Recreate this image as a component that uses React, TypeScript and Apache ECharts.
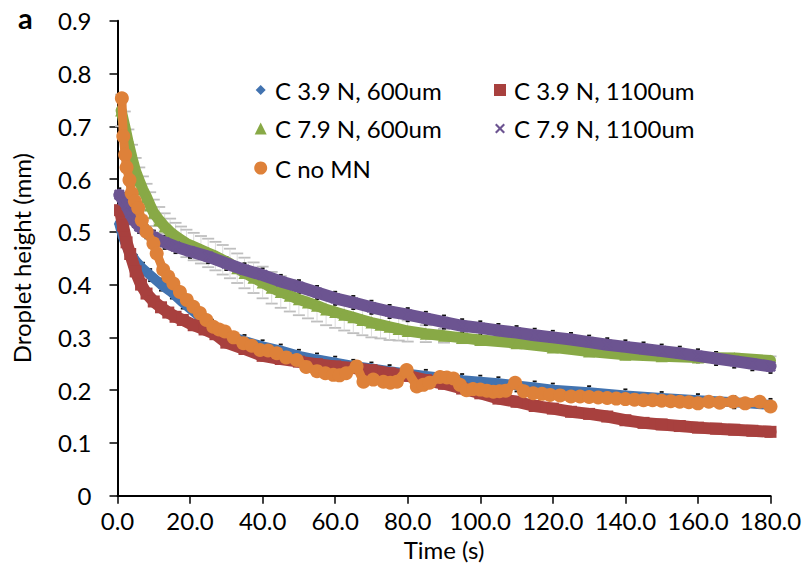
import React, { useEffect, useRef } from "react";
import * as echarts from "echarts";

// ---------- data ----------
const xTicks = [0, 20, 40, 60, 80, 100, 120, 140, 160, 180];
const yTicks = [0, 0.1, 0.2, 0.3, 0.4, 0.5, 0.6, 0.7, 0.8, 0.9];

const seriesNames = [
  "C 3.9 N, 600um",
  "C 3.9 N, 1100um",
  "C 7.9 N, 600um",
  "C 7.9 N, 1100um",
  "C no MN",
];

const blueTime = [0.5, 1.5, 3, 5, 7, 9, 12, 15, 18, 22, 26, 30, 35, 40, 45, 50, 55, 60, 65, 70, 75, 80, 85, 90, 95, 100, 105, 110, 115, 120, 130, 140, 150, 160, 170, 180];
const blueHeight = [0.515, 0.49, 0.465, 0.445, 0.43, 0.418, 0.4, 0.385, 0.366, 0.343, 0.322, 0.305, 0.293, 0.283, 0.275, 0.265, 0.258, 0.252, 0.246, 0.241, 0.236, 0.231, 0.227, 0.223, 0.219, 0.216, 0.213, 0.209, 0.205, 0.201, 0.196, 0.19, 0.185, 0.181, 0.177, 0.172];

const redTime = [0.7, 1.5, 2.5, 3.5, 5, 6.5, 8, 10, 12, 14, 16, 18, 21, 24, 27, 30, 35, 40, 45, 50, 55, 60, 65, 70, 75, 80, 85, 90, 95, 100, 105, 110, 115, 120, 125, 130, 135, 140, 145, 150, 155, 160, 165, 170, 175, 180];
const redHeight = [0.541, 0.512, 0.48, 0.458, 0.425, 0.4, 0.383, 0.368, 0.357, 0.347, 0.339, 0.333, 0.323, 0.315, 0.306, 0.29, 0.278, 0.265, 0.259, 0.254, 0.249, 0.245, 0.242, 0.238, 0.232, 0.227, 0.219, 0.212, 0.203, 0.194, 0.184, 0.178, 0.17, 0.165, 0.159, 0.155, 0.15, 0.143, 0.138, 0.135, 0.132, 0.129, 0.127, 0.125, 0.123, 0.121];

const greenTime = [1, 2, 3, 4, 5, 6, 7, 8, 9, 10, 11.5, 13, 14.5, 16, 17.5, 19, 21, 23, 25, 27, 29, 31, 33, 35, 37.5, 40, 42.5, 45, 47.5, 50, 52.5, 55, 57.5, 60, 62.5, 65, 67.5, 70, 72.5, 75, 77.5, 80, 85, 90, 95, 100, 110, 120, 130, 140, 150, 160, 170, 180];
const greenHeight = [0.73, 0.7, 0.668, 0.64, 0.615, 0.597, 0.58, 0.566, 0.55, 0.536, 0.522, 0.51, 0.5, 0.492, 0.485, 0.478, 0.472, 0.466, 0.46, 0.454, 0.447, 0.44, 0.431, 0.422, 0.413, 0.404, 0.394, 0.386, 0.379, 0.372, 0.366, 0.36, 0.353, 0.348, 0.343, 0.338, 0.333, 0.328, 0.324, 0.32, 0.316, 0.312, 0.307, 0.303, 0.299, 0.295, 0.289, 0.281, 0.273, 0.267, 0.264, 0.262, 0.261, 0.256];
const greenError = [0.03, 0.028, 0.026, 0.025, 0.025, 0.025, 0.025, 0.025, 0.025, 0.025, 0.025, 0.025, 0.025, 0.025, 0.025, 0.026, 0.026, 0.026, 0.027, 0.027, 0.028, 0.028, 0.028, 0.029, 0.029, 0.03, 0.03, 0.03, 0.03, 0.03, 0.03, 0.03, 0.03, 0.03, 0.03, 0.03, 0.029, 0.028, 0.026, 0.025, 0.022, 0.02, 0.016, 0.013, 0.01, 0.008, 0.008, 0.008, 0.008, 0.008, 0.008, 0.008, 0.008, 0.008];

const purpleTime = [0.5, 1.5, 2.5, 3.5, 4.5, 6, 8, 10, 13, 16, 20, 25, 30, 35, 40, 45, 50, 55, 60, 65, 70, 75, 80, 85, 90, 95, 100, 105, 110, 115, 120, 125, 130, 135, 140, 145, 150, 155, 160, 165, 170, 175, 180];
const purpleHeight = [0.57, 0.56, 0.55, 0.535, 0.522, 0.51, 0.5, 0.49, 0.48, 0.472, 0.463, 0.453, 0.44, 0.428, 0.418, 0.406, 0.396, 0.385, 0.374, 0.366, 0.357, 0.349, 0.343, 0.336, 0.329, 0.322, 0.318, 0.313, 0.309, 0.304, 0.3, 0.296, 0.291, 0.286, 0.282, 0.278, 0.274, 0.27, 0.265, 0.26, 0.255, 0.25, 0.245];

const orangeTime = [1.2, 1.6, 2.1, 2.5, 3.3, 3.9, 4.8, 5.7, 6.7, 8, 9.9, 10.8, 12.6, 14, 15.4, 17.2, 19.1, 20.9, 22.7, 24.5, 26.4, 28, 29.6, 32, 34.7, 37, 39.3, 41.5, 43.9, 46.5, 49.4, 52, 55, 57.3, 59.5, 61.2, 63, 65.9, 67.8, 70.5, 73.3, 75.2, 77, 79.7, 82.5, 84.3, 86, 88.9, 90.8, 92.6, 94.4, 96.2, 98, 100, 101.8, 103.6, 105.3, 107, 109.6, 112, 114.6, 117, 119.2, 122, 125, 127.5, 130, 132.5, 135, 137.5, 140, 142.5, 145, 147.5, 150, 152.5, 155, 157.5, 160, 163, 166, 169.7, 173, 177, 180];
const orangeHeight = [0.753, 0.681, 0.646, 0.622, 0.598, 0.573, 0.558, 0.545, 0.522, 0.5, 0.478, 0.459, 0.428, 0.415, 0.402, 0.386, 0.371, 0.358, 0.346, 0.333, 0.32, 0.315, 0.311, 0.3, 0.289, 0.284, 0.276, 0.275, 0.27, 0.262, 0.257, 0.244, 0.236, 0.232, 0.229, 0.228, 0.232, 0.245, 0.216, 0.22, 0.216, 0.214, 0.216, 0.238, 0.207, 0.21, 0.214, 0.225, 0.224, 0.222, 0.21, 0.2, 0.202, 0.201, 0.199, 0.197, 0.198, 0.199, 0.214, 0.198, 0.194, 0.193, 0.191, 0.19, 0.188, 0.188, 0.187, 0.186, 0.185, 0.184, 0.183, 0.182, 0.181, 0.181, 0.18, 0.179, 0.178, 0.177, 0.175, 0.178, 0.176, 0.178, 0.175, 0.178, 0.169];

// ---------- styling ----------
const FONT = "Lato";
const FS = 24;
const colors = ["#4273B0", "#A8403E", "#88A946", "#6C5491", "#DE8139"];
const xShape =
  "path://M0,1.5L1.5,0L5,3.5L8.5,0L10,1.5L6.5,5L10,8.5L8.5,10L5,6.5L1.5,10L0,8.5L3.5,5Z";
const symbols = ["diamond", "rect", "triangle", xShape, "circle"];
const symbolSizes = [11, 12, 12, 11, 14];
const bandWidths = [10, 12, 11, 12, 9];

const pairs = (t: number[], v: number[]) => t.map((x, i) => [x, v[i]]);

const seriesData = [
  pairs(blueTime, blueHeight),
  pairs(redTime, redHeight),
  pairs(greenTime, greenHeight),
  pairs(purpleTime, purpleHeight),
  pairs(orangeTime, orangeHeight),
];

// legend layout: [iconCenterX, rowCenterY]
const legendPos = [
  [260.7, 90],
  [500, 90],
  [260.7, 128.5],
  [500, 128.5],
  [260.7, 168],
];
const legendTextStart = [275, 514, 275, 514, 275];
const legendIconSizes = [10, 12, 12, 10, 13];

export default function App() {
  const ref = useRef<HTMLDivElement>(null);

  useEffect(() => {
    document.body.style.margin = "0";
    if (!ref.current) return;
    const chart = echarts.init(ref.current, null, { renderer: "svg" });

    const legends = seriesNames.map((name, i) => {
      const w = legendIconSizes[i];
      const left = legendPos[i][0] - w / 2;
      const pad = legendTextStart[i] - (left + w + 5);
      return {
        show: true,
        data: [{ name, icon: symbols[i] }],
        left,
        top: legendPos[i][1] - 12,
        padding: 0,
        itemWidth: w,
        itemHeight: w,
        itemGap: 0,
        selectedMode: false,
        textStyle: {
          fontFamily: FONT,
          fontSize: FS,
          color: "#000",
          padding: [0, 0, 0, pad],
        },
      };
    });

    const mainSeries = seriesNames.map((name, i) => ({
      type: "line",
      name,
      data: seriesData[i],
      symbol: symbols[i],
      symbolSize: symbolSizes[i],
      showSymbol: true,
      showAllSymbol: true,
      smooth: false,
      color: colors[i],
      itemStyle: { color: colors[i] },
      lineStyle: { color: colors[i], width: bandWidths[i], cap: "round", join: "round" },
      z: 3 + i,
      silent: true,
    }));

    const capSeries = (name: string, t: number[], v: number[], e: number[], color: string, hw: number, z: number, stem: boolean) => ({
      type: "custom",
      name,
      data: t.map((x, i) => [x, v[i], e[i]]),
      encode: { x: 0, y: 1 },
      z,
      silent: true,
      renderItem: (_params: any, api: any) => {
        const tt = api.value(0);
        const vv = api.value(1);
        const ee = api.value(2);
        const top = api.coord([tt, vv + ee]);
        const bot = api.coord([tt, vv - ee]);
        const st = { stroke: color, lineWidth: 1.8 };
        const children: any[] = [
          { type: "line", shape: { x1: top[0] - hw, y1: top[1], x2: top[0] + hw, y2: top[1] }, style: st },
          { type: "line", shape: { x1: bot[0] - hw, y1: bot[1], x2: bot[0] + hw, y2: bot[1] }, style: st },
        ];
        if (stem) {
          children.push({ type: "line", shape: { x1: top[0], y1: top[1], x2: bot[0], y2: bot[1] }, style: { stroke: "#D4D4D4", lineWidth: 0.8 } });
        }
        return { type: "group", children };
      },
    });

    const axisFont = { fontFamily: FONT, fontSize: FS, color: "#000" };

    chart.setOption({
      animation: false,
      backgroundColor: "#ffffff",
      textStyle: { fontFamily: FONT },
      grid: { left: 117.5, right: 34.5, top: 20.7, bottom: 82.3, containLabel: false },
      xAxis: {
        type: "value",
        min: xTicks[0],
        max: xTicks[xTicks.length - 1],
        interval: xTicks[1] - xTicks[0],
        name: "Time (s)",
        nameLocation: "middle",
        nameGap: 40,
        nameTextStyle: axisFont,
        axisLine: { show: true, onZero: false, lineStyle: { color: "#000", width: 2 } },
        axisTick: { show: true, length: 8, lineStyle: { color: "#000", width: 1.5 } },
        axisLabel: { ...axisFont, margin: 13, formatter: (v: number) => v.toFixed(1) },
        splitLine: { show: false },
      },
      yAxis: {
        type: "value",
        min: yTicks[0],
        max: yTicks[yTicks.length - 1],
        interval: 0.1,
        name: "Droplet height (mm)",
        nameLocation: "middle",
        nameGap: 84,
        nameTextStyle: axisFont,
        axisLine: { show: true, onZero: false, lineStyle: { color: "#000", width: 2 } },
        axisTick: { show: true, length: 8, lineStyle: { color: "#000", width: 1.5 } },
        axisLabel: {
          ...axisFont,
          margin: 26,
          formatter: (v: number) => (Math.abs(v) < 1e-9 ? "0" : v.toFixed(1)),
        },
        splitLine: { show: false },
      },
      legend: legends,
      graphic: [
        {
          type: "text",
          left: 18,
          top: 3,
          style: { text: "a", font: `bold 29px ${FONT}`, fill: "#000" },
        },
      ],
      series: [
        capSeries("greenError", greenTime, greenHeight, greenError, "#BFBFBF", 6, 1, true),
        capSeries("purpleError", purpleTime, purpleHeight, purpleTime.map(() => 0.0125), "#111", 2, 2, false),
        capSeries("blueError", blueTime, blueHeight, blueTime.map(() => 0.0115), "#111", 2, 2, false),
        ...mainSeries,
      ],
    });

    return () => chart.dispose();
  }, []);

  return <div ref={ref} style={{ width: 805, height: 578 }} />;
}
